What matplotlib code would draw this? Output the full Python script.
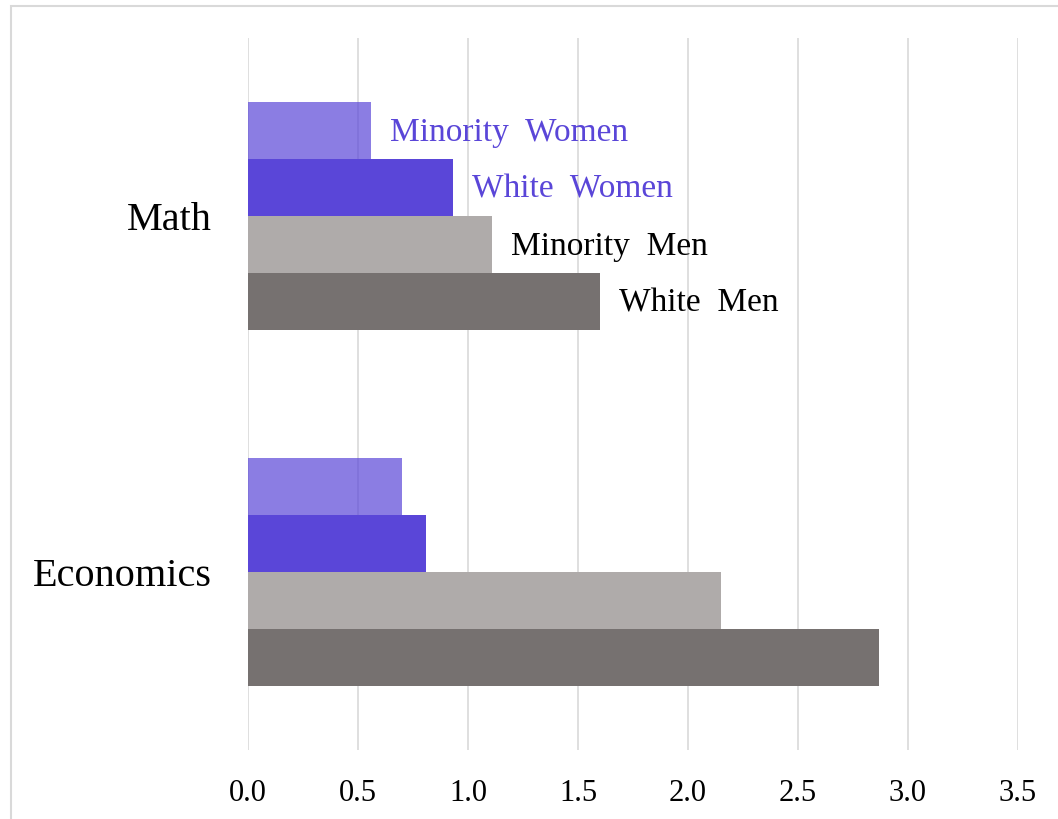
import matplotlib.pyplot as plt
from matplotlib.patches import Rectangle
import numpy as np

fields = ["Economics", "Math"]
groups = ["White Men", "Minority Men", "White Women", "Minority Women"]
white_men = [2.87, 1.60]
minority_men = [2.15, 1.11]
white_women = [0.81, 0.93]
minority_women = [0.70, 0.56]
ticks = [0.0, 0.5, 1.0, 1.5, 2.0, 2.5, 3.0, 3.5]

colors = ["#767170", "#AFABAA", "#5A46D8", "#5A46D8"]
alphas = [1.0, 1.0, 1.0, 0.7]
label_colors = ["black", "black", "#5A46D8", "#5A46D8"]

plt.rcParams["font.family"] = ["Liberation Serif", "DejaVu Serif"]

fig = plt.figure(figsize=(10.58, 8.19), dpi=100)
ax = fig.add_axes([248 / 1058, 1 - 750 / 819, 770 / 1058, 712 / 819])

# outer frame of the chart area
fig.patches.append(Rectangle((11 / 1058, -0.1), 1.2, 1 - 6 / 819 + 0.1,
                             transform=fig.transFigure, fill=False,
                             edgecolor="#D9D9D9", linewidth=1.5))

y = np.arange(len(fields))
h = 0.16
series = [white_men, minority_men, white_women, minority_women]
for i, vals in enumerate(series):
    pos = y + (i - 1.5) * h
    ax.barh(pos, vals, height=h, color=colors[i], alpha=alphas[i],
            linewidth=0, zorder=2)
    # group names sit next to the Math bars
    ax.annotate(groups[i].replace(" ", "  "), (vals[1], pos[1]),
                xytext=(19, -2), textcoords="offset pixels",
                va="center", ha="left", fontsize=24, color=label_colors[i])

for t in ticks:
    ax.axvline(t, color="#D9D9D9", linewidth=1.2, zorder=1)

ax.set_xlim(0, 3.5)
ax.set_ylim(-0.5, 1.5)
ax.set_xticks(ticks)
ax.set_xticklabels([f"{t:.1f}" for t in ticks], fontsize=22)
ax.set_yticks(y)
ax.set_yticklabels(fields, fontsize=29)
ax.tick_params(axis="x", length=0, pad=21)
ax.tick_params(axis="y", length=0, pad=26)
for s in ax.spines.values():
    s.set_visible(False)

fig.savefig("out.png", dpi=100)
